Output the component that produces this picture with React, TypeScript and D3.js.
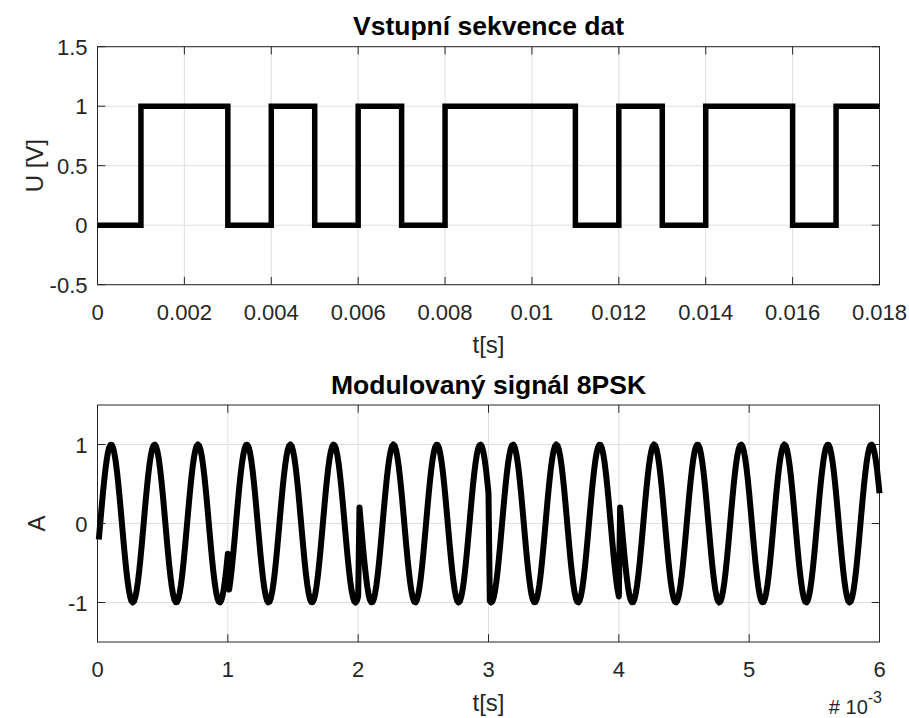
import React from "react";
import * as d3 from "d3";

// ---------- data ----------
const bitTimeS = 0.001;
const dataBits = [0, 1, 1, 0, 1, 0, 1, 0, 1, 1, 1, 0, 1, 0, 1, 1, 0, 1];

const topXTicks = [0, 0.002, 0.004, 0.006, 0.008, 0.01, 0.012, 0.014, 0.016, 0.018];
const topXTickLabels = ["0", "0.002", "0.004", "0.006", "0.008", "0.01", "0.012", "0.014", "0.016", "0.018"];
const topYTicks = [-0.5, 0, 0.5, 1, 1.5];
const topYTickLabels = ["-0.5", "0", "0.5", "1", "1.5"];

// 8PSK: one symbol (3 bits) per 1 ms, phase
const symbolTimeS = 0.001;
const carrierHz = 3000;
const sampleRateHz = 100000;
const symbolPhasesDeg = [-112.5, -157.5, 67.5, 157.5, 67.5, 67.5];

const bottomXTicks = [0, 0.001, 0.002, 0.003, 0.004, 0.005, 0.006];
const bottomXTickLabels = ["0", "1", "2", "3", "4", "5", "6"];
const bottomYTicks = [-1, 0, 1];
const bottomYTickLabels = ["-1", "0", "1"];

// ---------- layout ----------
const W = 909;
const H = 718;
const LEFT = 97.5;
const RIGHT = 879.5;
const TOP1 = 46.7;
const BOT1 = 284.7;
const TOP2 = 405;
const BOT2 = 642;
const FONT = "'Liberation Sans', Arial, Helvetica, sans-serif";
const AX = "#262626";
const GRID = "#dfdfdf";
const TICK_LEN = 7.8;
const TICK_FS = 22;

type AxesProps = {
  x: d3.ScaleLinear<number, number>;
  y: d3.ScaleLinear<number, number>;
  xTicks: number[];
  xLabels: string[];
  yTicks: number[];
  yLabels: string[];
};

function AxesFrame({ x, y, xTicks, xLabels, yTicks, yLabels }: AxesProps) {
  const [x0, x1] = x.range();
  const [yb, yt] = y.range();
  return (
    <g>
      {xTicks.map((t, i) => (
        <line key={"gx" + i} x1={x(t)} x2={x(t)} y1={yt} y2={yb} stroke={GRID} strokeWidth={1} />
      ))}
      {yTicks.map((t, i) => (
        <line key={"gy" + i} x1={x0} x2={x1} y1={y(t)} y2={y(t)} stroke={GRID} strokeWidth={1} />
      ))}
      <rect x={x0} y={yt} width={x1 - x0} height={yb - yt} fill="none" stroke={AX} strokeWidth={1} />
      {xTicks.map((t, i) => (
        <g key={"tx" + i}>
          <line x1={x(t)} x2={x(t)} y1={yb} y2={yb - TICK_LEN} stroke={AX} strokeWidth={1} />
          <line x1={x(t)} x2={x(t)} y1={yt} y2={yt + TICK_LEN} stroke={AX} strokeWidth={1} />
          <text x={x(t)} y={yb + 35} textAnchor="middle" fontSize={TICK_FS} fill={AX} fontFamily={FONT}>
            {xLabels[i]}
          </text>
        </g>
      ))}
      {yTicks.map((t, i) => (
        <g key={"ty" + i}>
          <line x1={x0} x2={x0 + TICK_LEN} y1={y(t)} y2={y(t)} stroke={AX} strokeWidth={1} />
          <line x1={x1} x2={x1 - TICK_LEN} y1={y(t)} y2={y(t)} stroke={AX} strokeWidth={1} />
          <text x={x0 - 10} y={y(t) + 8} textAnchor="end" fontSize={TICK_FS} fill={AX} fontFamily={FONT}>
            {yLabels[i]}
          </text>
        </g>
      ))}
    </g>
  );
}

export default function App() {
  // top: input bit sequence
  const xTop = d3.scaleLinear().domain([0, 0.018]).range([LEFT, RIGHT]);
  const yTop = d3.scaleLinear().domain([-0.5, 1.5]).range([BOT1, TOP1]);
  const stepPts: [number, number][] = dataBits.map((b, i) => [i * bitTimeS, b]);
  stepPts.push([dataBits.length * bitTimeS, dataBits[dataBits.length - 1]]);
  const stepLine = d3
    .line<[number, number]>()
    .x((d) => xTop(d[0]))
    .y((d) => yTop(d[1]))
    .curve(d3.curveStepAfter)(stepPts);

  // bottom: 8PSK modulated signal
  const xBot = d3.scaleLinear().domain([0, 0.006]).range([LEFT, RIGHT]);
  const yBot = d3.scaleLinear().domain([-1.5, 1.5]).range([BOT2, TOP2]);
  const nPerSym = Math.round(symbolTimeS * sampleRateHz);
  const sigPts: [number, number][] = [];
  symbolPhasesDeg.forEach((ph, k) => {
    const phr = (ph * Math.PI) / 180;
    for (let j = 1; j <= nPerSym; j++) {
      const tl = j / sampleRateHz;
      sigPts.push([k * symbolTimeS + tl, Math.cos(2 * Math.PI * carrierHz * tl + phr)]);
    }
  });
  const sigLine = d3
    .line<[number, number]>()
    .x((d) => xBot(d[0]))
    .y((d) => yBot(d[1]))(sigPts);

  const cx = (LEFT + RIGHT) / 2;

  return (
    <svg
      width={W}
      height={H}
      viewBox={`0 0 ${W} ${H}`}
      style={{ position: "absolute", left: 0, top: 0, background: "#fff" }}
    >
      <rect x={0} y={0} width={W} height={H} fill="#fff" />

      {/* top plot */}
      <AxesFrame
        x={xTop}
        y={yTop}
        xTicks={topXTicks}
        xLabels={topXTickLabels}
        yTicks={topYTicks}
        yLabels={topYTickLabels}
      />
      <path d={stepLine || ""} fill="none" stroke="#000" strokeWidth={5.5} strokeLinejoin="miter" />
      <text x={cx} y={35} textAnchor="middle" fontSize={26.5} fontWeight="bold" fill="#000" fontFamily={FONT}>
        Vstupní sekvence dat
      </text>
      <text x={cx} y={353} textAnchor="middle" fontSize={24} fill={AX} fontFamily={FONT}>
        t[s]
      </text>
      <text
        transform={`translate(43, ${(TOP1 + BOT1) / 2}) rotate(-90)`}
        textAnchor="middle"
        fontSize={24}
        fill={AX}
        fontFamily={FONT}
      >
        U [V]
      </text>

      {/* bottom plot */}
      <AxesFrame
        x={xBot}
        y={yBot}
        xTicks={bottomXTicks}
        xLabels={bottomXTickLabels}
        yTicks={bottomYTicks}
        yLabels={bottomYTickLabels}
      />
      <path d={sigLine || ""} fill="none" stroke="#000" strokeWidth={6} strokeLinejoin="round" />
      <text x={cx} y={394} textAnchor="middle" fontSize={26.5} fontWeight="bold" fill="#000" fontFamily={FONT}>
        Modulovaný signál 8PSK
      </text>
      <text x={cx} y={711} textAnchor="middle" fontSize={24} fill={AX} fontFamily={FONT}>
        t[s]
      </text>
      <text
        transform={`translate(45, ${(TOP2 + BOT2) / 2}) rotate(-90)`}
        textAnchor="middle"
        fontSize={24}
        fill={AX}
        fontFamily={FONT}
      >
        A
      </text>
      <text x={882} y={714} textAnchor="end" fontSize={20} fill={AX} fontFamily={FONT}>
        # 10
        <tspan fontSize={16} dy={-11}>-3</tspan>
      </text>
    </svg>
  );
}
